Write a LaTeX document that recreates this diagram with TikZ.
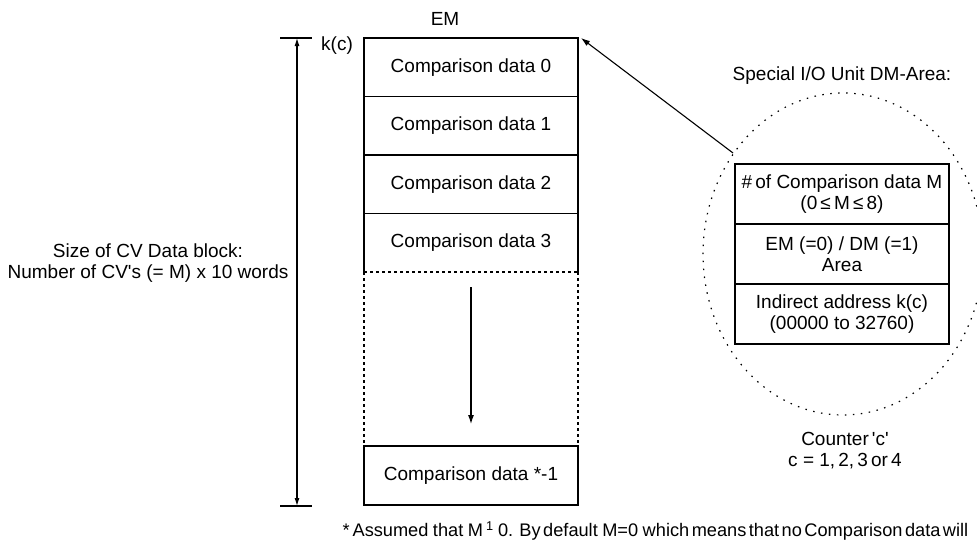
\documentclass[tikz,border=0pt]{standalone}
\usepackage{fontspec}
\setmainfont{Liberation Sans}
\usetikzlibrary{arrows.meta}

\begin{document}
\begin{tikzpicture}[x=1pt,y=-1pt,line width=1.1pt,
  every node/.style={font=\fontsize{19}{21}\selectfont},
  cell/.style={minimum width=214pt,minimum height=58.5pt,inner sep=0pt,outer sep=0pt,anchor=north west},
  row/.style={draw,minimum width=214pt,minimum height=60pt,inner sep=0pt,outer sep=0pt,align=center,anchor=north west},
  tip/.style={-{Latex[length=9pt,width=6pt]}},
  dim/.style={{Latex[length=8pt,width=5pt]}-{Latex[length=8pt,width=5pt]}},
  dots/.style={dash pattern=on 3pt off 3pt},
  circdots/.style={line width=1.2pt,dash pattern=on 1.5pt off 6.5pt}]
  \useasboundingbox (0,0) rectangle (977,549);
  \node (em) at (445,19) {EM};
  \node (kc) at (337,46) {k(c)};
  \node[cell,draw] (cd0) at (364,38) {Comparison data 0};
  \node[cell,draw] (cd1) at (cd0.south west) {Comparison data 1};
  \node[cell,draw] (cd2) at (cd1.south west) {Comparison data 2};
  \node[cell] (cd3) at (cd2.south west) {Comparison data 3};
  \draw (cd3.south west) -- (cd3.north west) -- (cd3.north east) -- (cd3.south east);
  \node[cell,draw,minimum height=59pt] (cdn) at (364,446) {Comparison data *-1};
  \draw[dots] (cd3.south west) -- (cd3.south east);
  \draw[dots] (cd3.south west) -- (cdn.north west);
  \draw[dots] (cd3.south east) -- (cdn.north east);
  \coordinate (flowtop) at (471,287);
  \coordinate (flowend) at (471,424);
  \draw[tip] (flowtop) -- (flowend);

  \coordinate (dimtop) at (297,38);
  \coordinate (dimbot) at (297,506);
  \draw[dim] (dimtop) -- (dimbot);
  \draw ([xshift=-17pt]dimtop) -- ([xshift=15pt]dimtop);
  \draw ([xshift=-17pt]dimbot) -- ([xshift=15pt]dimbot);
  \node[align=center] (size) at (148,263) {Size of CV Data block:\\Number of CV\textquotesingle s (= M) x 10 words};

  \node (dmtitle) at (842,76) {Special I/O Unit DM-Area:};
  \coordinate (dmc) at (843,254);
  \draw[circdots] (dmc) ellipse [x radius=140pt, y radius=161pt];
  \node[row] (nm) at (735,164) {\#\,of Comparison data M\\(0\,≤\,M\,≤\,8)};
  \node[row] (area) at (nm.south west) {EM (=0) / DM (=1)\\Area};
  \node[row] (addr) at (area.south west) {Indirect address k(c)\\(00000 to 32760)};
  \coordinate (dmedge) at (733,153);
  \draw[tip] (dmedge) -- ([xshift=3pt]cd0.north east);
  \node[align=center] (cnt) at (845,451) {Counter\,\textquotesingle c\textquotesingle\\c = 1,\,2,\,3\,or\,4};

  \node[anchor=west,inner sep=0pt,font=\fontsize{18.2}{21}\selectfont] (note) at (342,531) {\spaceskip=4.5pt *\hspace{3pt}Assumed that M\hspace{3pt}\textsuperscript{1} 0. By\hspace{2.5pt}default M=0 which\hspace{2.5pt}means\hspace{2.5pt}that\hspace{2.5pt}no\hspace{2.5pt}Comparison\hspace{2.5pt}data\hspace{2.5pt}will};
\end{tikzpicture}
\end{document}
